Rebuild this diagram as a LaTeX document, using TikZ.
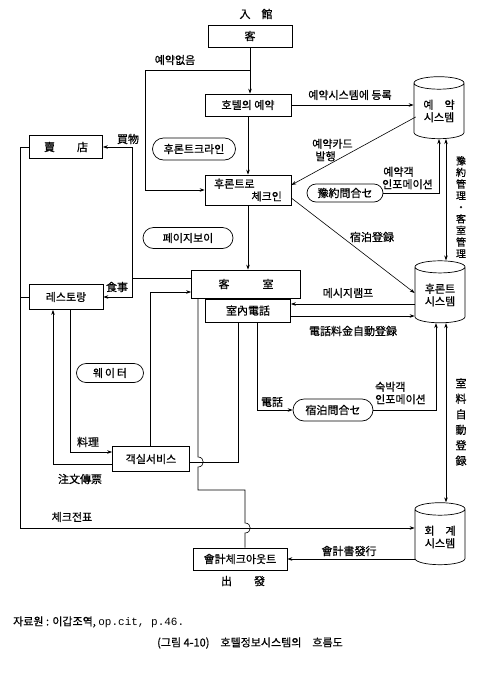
\documentclass[tikz,border=0pt]{standalone}
\usepackage{fontspec}
\setmainfont{Noto Sans CJK KR}[FakeBold=0.6]
\newfontfamily\monofam{Liberation Mono}
\usetikzlibrary{arrows.meta,shapes.geometric,shapes.misc,calc}
\begin{document}
\begin{tikzpicture}[x=1pt,y=-1pt,
  every node/.style={font=\fontsize{11}{12.5}\selectfont, inner sep=0pt},
  box/.style={draw, line width=0.7pt, align=center},
  pill/.style={draw, line width=0.7pt, rounded rectangle, align=center},
  db/.style={draw, line width=0.7pt, cylinder, shape border rotate=90, aspect=0.4, align=center, minimum width=50pt, minimum height=62pt},
  line/.style={line width=0.6pt},
  arr/.style={line width=0.6pt, -{Stealth[length=5pt,width=3.5pt]}},
  darr/.style={line width=0.6pt, {Stealth[length=5pt,width=3.5pt]}-{Stealth[length=5pt,width=3.5pt]}},
]
\useasboundingbox (0,0) rectangle (477,678);
% boxes
\node (ipkwan) at (256,14) {入\quad 館};
\node[box, minimum width=84pt, minimum height=22pt] (gaek) at (250,36) {客};
\node[box, minimum width=86pt, minimum height=22pt] (hotelres) at (248,105) {호텔의 예약};
\node[pill, minimum width=83pt, minimum height=22pt] (frontline) at (194,149) {후론트크라인};
\node[box, minimum width=86pt, minimum height=30pt, align=left] (checkin) at (248,190) {후론트로\\\hspace*{3.4em}체크인};
\node[pill, minimum width=90pt, minimum height=21pt] (pageboy) at (188,238) {페이지보이};
\node[pill, minimum width=76pt, minimum height=18pt] (yoyakmun) at (345,193) {豫約問合セ};
\node[db] (yeyak) at (439,111) {예\quad 약\\시스템};
\node[db] (frontsys) at (440,295) {후론트\\시스템};
\node[db] (hoegye) at (440,537) {회\quad 계\\시스템};
\node[box, minimum width=109pt, minimum height=28pt] (gaeksil) at (246,284) {客\hspace{3em}室};
\node[box, minimum width=85pt, minimum height=23pt] (naejeon) at (248,310.5) {室內電話};
\node[box, minimum width=73pt, minimum height=23pt] (maejeom) at (66,147) {賣\hspace{2em}店};
\node[box, minimum width=74pt, minimum height=25pt] (restaurant) at (66,297) {레스토랑};
\node[pill, minimum width=67pt, minimum height=19pt] (waiter) at (110,373) {웨\,이\,터};
\node[box, minimum width=77pt, minimum height=25pt] (roomsvc) at (151,459) {객실서비스};
\node[pill, minimum width=80pt, minimum height=22pt] (sukbak) at (333,410) {宿泊問合セ};
\node[box, minimum width=94pt, minimum height=22pt] (checkout) at (240,559) {會計체크아웃트};
\node (chulbal) at (243,581) {出\hspace{2em}發};
% labels
\node (l1) at (175,60) {예약없음};
\node (l2) at (350,95) {예약시스템에 등록};
\node[align=left, anchor=west] (l3) at (312,150) {예약카드\\\hspace*{0.3em}발행};
\node[align=left, anchor=west] (l4) at (382,178) {\hspace*{0.1em}예약객\\인포메이션};
\node (l5) at (372,237) {宿泊登録};
\node (l6) at (348,293) {메시지램프};
\node (l7) at (353,331) {電話料金自動登録};
\node (l8) at (272,402) {電話};
\node[align=left, anchor=west] (l9) at (375,393) {숙박객\\인포메이션};
\node[align=center, font=\fontsize{10}{11.6}\selectfont] (l10) at (461,207) {豫\\約\\管\\理\\・\\客\\室\\管\\理};
\node[align=center, font=\fontsize{11}{15.5}\selectfont] (l11) at (461,422) {室\\料\\自\\動\\登\\録};
\node (l12) at (128,139) {買物};
\node (l13) at (117,287) {食事};
\node (l14) at (88,442) {料理};
\node (l15) at (80,479) {注文傳票};
\node (l16) at (72,517) {체크전표};
\node (l17) at (349,551) {會計書發行};
\node[anchor=west] (src) at (13,622) {자료원 : 이갑조역, {\monofam op.cit, p.46.}};
\node (cap) at (250,643) {(그림 4-10)\quad 호텔정보시스템의\quad 흐름도};
% connectors
\draw[arr] (gaek.south) -- (gaek.south |- hotelres.north);
\coordinate (nrA) at (250,70);
\coordinate (nrB) at (145,70);
\draw[line] (nrA) -- (nrB);
\draw[arr] (nrB) |- (checkin.west);
\draw[arr] (hotelres.east) -- (hotelres.east -| yeyak.west);
\draw[arr] (hotelres.south) -- (checkin.north);
\draw[arr] ($(yeyak.west)+(2,6)$) -- ($(checkin.east)+(0,-5)$);
\draw[arr] ($(checkin.east)+(0,8)$) -- ($(frontsys.west)+(0,-2)$);
\draw[arr] (checkin.south) -- (gaeksil.north -| checkin.south);
\coordinate (yi) at (439,193);
\draw[arr] (yoyakmun.east) -- (yi) -- (yi |- yeyak.south);
\draw[darr] (yeyak.south -| 446,0) -- (frontsys.north -| 446,0);
\draw[arr] (frontsys.west |- 0,304) -- (naejeon.east |- 0,304);
\draw[arr] (naejeon.east |- 0,316) -- (frontsys.west |- 0,316);
\coordinate (tel) at (257,410);
\draw[arr] (naejeon.south -| tel) -- (tel) -- (sukbak.west);
\coordinate (si) at (436,410);
\draw[arr] (sukbak.east) -- (si) -- (si |- frontsys.south);
\draw[darr] (frontsys.south -| 446,0) -- (hoegye.north -| 446,0);
\coordinate (bj) at (132,278);
\draw[line] (gaeksil.west |- bj) -- (bj);
\draw[arr] (bj) |- (maejeom.east);
\draw[arr] (bj) |- (restaurant.east);
\draw[arr] (maejeom.west) -- (maejeom.west -| 20,0) -- (20,528) -- (hoegye.west |- 0,528);
\draw[line] (restaurant.west) -- (restaurant.west -| 20,0);
\coordinate (rs1) at (70,452);
\draw[arr] (restaurant.south -| rs1) -- (rs1) -- (roomsvc.west |- rs1);
\coordinate (rs2) at (53,464);
\draw[arr] (roomsvc.west |- rs2) -- (rs2) -- (rs2 |- restaurant.south);
\coordinate (rs3) at (150,292);
\draw[arr] (roomsvc.north -| rs3) -- (rs3) -- (gaeksil.west |- rs3);
\coordinate (tl) at (238,462);
\draw[line] (naejeon.south -| tl) -- (tl) -- (roomsvc.east |- tl);
\draw[line] (gaeksil.south -| 198,0) -- (198,457) .. controls (205,457) and (205,467) .. (198,467) -- (198,490) -- (245,490) -- (245,523) .. controls (252,523) and (252,533) .. (245,533) -- (checkout.north -| 245,0);
\draw[arr] (hoegye.west |- 0,559) -- (checkout.east);
\end{tikzpicture}
\end{document}
